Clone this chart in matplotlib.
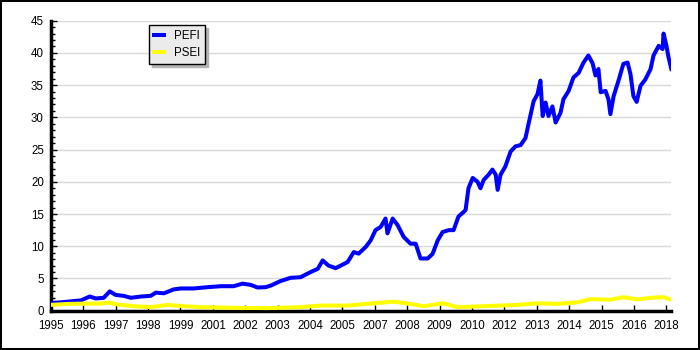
import matplotlib
matplotlib.use("Agg")
import matplotlib.pyplot as plt
from matplotlib.patches import Rectangle
from matplotlib.ticker import MultipleLocator

plt.rcParams['font.family'] = ['Liberation Sans', 'DejaVu Sans']

# x position in tick units (one unit = one tick label step)
year_labels = ['1995', '1996', '1997', '1998', '1999', '2001', '2002', '2003', '2004', '2005',
               '2007', '2008', '2009', '2010', '2012', '2013', '2014', '2015', '2016', '2018']

pefi_t = [0.00, 0.31, 0.62, 0.93, 1.20, 1.39, 1.63, 1.82, 2.00, 2.25,
          2.47, 2.78, 3.08, 3.24, 3.49, 3.79, 4.01, 4.41, 4.84, 5.24,
          5.64, 5.92, 6.17, 6.38, 6.63, 6.79, 7.09, 7.40, 7.71, 8.02,
          8.24, 8.39, 8.57, 8.79, 8.95, 9.16, 9.35, 9.50, 9.72, 9.87,
          10.02, 10.18, 10.33, 10.39, 10.55, 10.70, 10.89, 11.10, 11.26, 11.41,
          11.63, 11.78, 11.94, 12.09, 12.28, 12.43, 12.58, 12.80, 12.89, 13.02,
          13.17, 13.26, 13.36, 13.51, 13.63, 13.73, 13.79, 13.88, 14.03, 14.19,
          14.34, 14.50, 14.65, 14.74, 14.90, 15.02, 15.11, 15.18, 15.27, 15.36,
          15.48, 15.58, 15.73, 15.82, 15.98, 16.13, 16.29, 16.44, 16.59, 16.72,
          16.81, 16.90, 16.97, 17.12, 17.21, 17.27, 17.37, 17.52, 17.67, 17.80,
          17.89, 17.98, 18.08, 18.20, 18.35, 18.51, 18.60, 18.76, 18.88, 18.91,
          19.00, 19.06, 19.15]
pefi = [1.2, 1.3, 1.45, 1.6, 2.2, 1.9, 2.0, 3.0, 2.45, 2.3,
        2.0, 2.2, 2.3, 2.8, 2.7, 3.3, 3.45, 3.45, 3.65, 3.8,
        3.8, 4.2, 4.0, 3.6, 3.65, 3.9, 4.6, 5.1, 5.2, 6.0,
        6.5, 7.8, 7.0, 6.6, 7.0, 7.55, 9.1, 8.85, 9.9, 10.9,
        12.5, 13.0, 14.3, 12.0, 14.3, 13.3, 11.45, 10.4, 10.4, 8.1,
        8.1, 8.8, 10.9, 12.2, 12.5, 12.5, 14.6, 15.6, 19.0, 20.6,
        20.0, 19.0, 20.3, 21.1, 21.9, 21.1, 18.75, 21.1, 22.4, 24.7,
        25.5, 25.7, 26.8, 28.9, 32.5, 33.6, 35.7, 30.2, 32.3, 30.2,
        31.7, 29.2, 30.7, 32.8, 34.1, 36.2, 36.9, 38.5, 39.6, 38.4,
        36.5, 37.5, 33.9, 34.1, 32.8, 30.5, 33.3, 35.7, 38.3, 38.5,
        36.7, 33.3, 32.4, 34.9, 35.9, 37.5, 39.6, 41.1, 40.6, 43.0,
        41.1, 39.4, 37.5]

psei_t = [0.00, 0.52, 1.02, 1.54, 1.79, 2.07, 2.56, 3.08, 3.61, 4.10,
          4.63, 5.64, 6.69, 7.71, 8.33, 9.16, 9.96, 10.58, 11.10, 11.51,
          12.12, 12.55, 13.36, 14.40, 15.01, 15.63, 16.25, 16.66, 17.27, 17.67,
          18.11, 18.51, 18.91, 19.12]
psei = [0.9, 1.05, 1.1, 1.1, 1.25, 0.95, 0.7, 0.55, 0.9, 0.7,
        0.55, 0.45, 0.4, 0.55, 0.8, 0.8, 1.15, 1.4, 1.05, 0.7,
        1.15, 0.55, 0.7, 0.9, 1.15, 1.05, 1.3, 1.8, 1.7, 2.1,
        1.75, 2.0, 2.1, 1.75]

fig = plt.figure(figsize=(7, 3.5), dpi=100)
ax = fig.add_axes([0.0726, 0.1123, 0.8855, 0.8286])

ax.plot(pefi_t, pefi, color='#0000ff', lw=2.9, label='PEFI', zorder=3)
ax.plot(psei_t, psei, color='#ffff00', lw=2.9, label='PSEI', zorder=3)

ax.set_xlim(0, 19.13)
ax.set_ylim(0, 45)
ax.set_xticks(range(len(year_labels)))
ax.set_xticklabels(year_labels)
ax.yaxis.set_major_locator(MultipleLocator(5))
ax.yaxis.set_minor_locator(MultipleLocator(1))
ax.grid(axis='y', color='#d9d9d9', lw=1)
ax.set_axisbelow(True)

for s in ['top', 'right']:
    ax.spines[s].set_visible(False)
for s in ['left', 'bottom']:
    ax.spines[s].set_linewidth(2.5)

ax.tick_params(axis='both', which='major', direction='in', length=4.5, width=1,
               labelsize=8.3, colors='black')
ax.tick_params(axis='y', which='minor', direction='in', length=3, width=1)
ax.tick_params(axis='x', pad=7)
ax.tick_params(axis='y', pad=5)

leg = ax.legend(loc='upper left', bbox_to_anchor=(0.158, 0.985), borderaxespad=0,
                fontsize=8.3, fancybox=False, framealpha=1, facecolor='#ebebeb',
                edgecolor='black', handlelength=0.9, handletextpad=0.8,
                labelspacing=0.4, borderpad=0.45,
                shadow={'color': '#b4b4b4', 'alpha': 1})
leg.get_frame().set_linewidth(1)

fig.add_artist(Rectangle((0, 0), 1, 1, transform=fig.transFigure, fill=False,
                         edgecolor='black', lw=2.9))

fig.savefig('out.png', dpi=100)
